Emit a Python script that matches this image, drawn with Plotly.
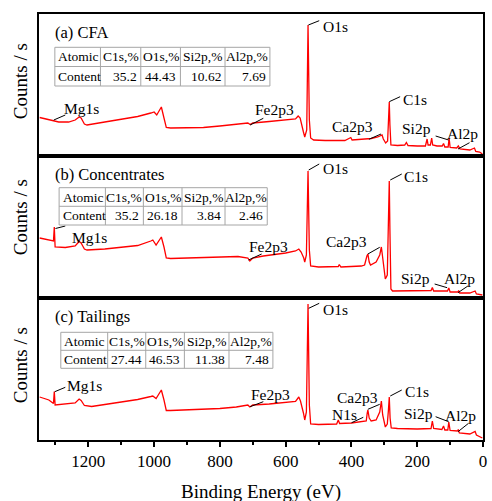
import plotly.graph_objects as go
from plotly.subplots import make_subplots

SERIF = "Liberation Serif"
RED = "#ff0000"
GRID = "#a6a6a6"

# ---- XPS survey spectra: binding energy (eV) and intensity (counts/s, arb. scale) ----
cfa_be = [1348, 1330, 1310, 1290, 1260, 1240, 1228, 1222, 1212, 1204, 1150, 1100, 1050,
          1010, 1000, 992, 978, 970, 963, 950, 900, 850, 800, 750, 715, 708, 700, 650,
          600, 570, 562, 556, 546, 542, 536, 532, 528, 524, 515, 480, 420, 406, 402,
          398, 370, 340, 320, 310, 307, 303, 296, 290, 286.5, 285, 283, 280, 260, 238,
          233, 228, 200, 175, 170, 167, 160, 156, 153, 140, 124, 120, 116, 106, 103,
          100, 80, 75, 70, 40, 26, 22, 10, 2]
cfa_cps = [38.5, 37, 35, 34, 34, 36, 39, 38, 32, 31, 34, 36.5, 39.5,
           43, 44, 41, 49, 38, 28.5, 28, 28, 28.5, 30, 31.5, 33, 31.5, 33, 34.5,
           36, 37, 40, 38, 24, 19, 26, 131, 36, 18, 16, 15.5, 15.5, 17.5, 18.5,
           16, 16.5, 17.5, 19, 20, 21, 17, 13, 15, 46, 54, 31, 11, 10.5, 11,
           13.5, 10.5, 10, 10, 17, 11, 11, 18, 11, 10, 10, 12.5, 9, 9, 18,
           8.5, 8, 10, 7, 6, 8, 4.5, 4, 2]

conc_be = [1348, 1320, 1306, 1303.5, 1301, 1270, 1240, 1228, 1222, 1212, 1204, 1150, 1100,
           1050, 1010, 1004, 994, 978, 970, 963, 950, 900, 850, 800, 745, 715, 709, 700,
           668, 600, 570, 560, 553, 545, 542, 537, 532, 528, 524, 500, 440, 437, 432,
           370, 360, 353, 350, 346, 342, 325, 314, 309, 304, 297, 291, 287, 285, 283,
           280, 275, 200, 158, 154, 150, 108, 104, 100, 76, 74, 71, 40, 24, 20, 2]
conc_cps = [60, 58, 57, 71, 51, 50.5, 52, 56.5, 55, 49, 48, 49, 50.5,
            52.5, 57, 58, 53, 61, 51, 40, 39.5, 40, 40.5, 41.5, 41.5, 40, 37, 40,
            42, 45, 47, 49, 46, 40, 36, 43, 127, 48, 32, 31, 31.5, 33.5, 31,
            32, 33, 42, 44, 36, 33, 36, 43, 51, 36, 19, 23, 78, 117, 68,
            9, 7, 7, 7.5, 10.5, 7, 7, 10, 6, 6, 7.5, 5, 5, 7, 4, 3]

tail_be = [1348, 1320, 1306, 1303.5, 1301, 1270, 1240, 1228, 1222, 1212, 1204, 1190, 1150,
           1100, 1050, 1010, 1004, 994, 978, 970, 963, 950, 900, 850, 800, 750, 715, 709,
           700, 650, 600, 570, 560, 555, 546, 542, 537, 532, 528, 524, 500, 445, 440,
           436, 400, 370, 355, 352, 350, 346, 340, 325, 314, 309, 305, 297, 291, 287.5,
           285, 282.5, 279, 260, 200, 158, 154, 150, 125, 120, 116, 107, 104, 100, 78,
           75, 72, 40, 24, 20, 2]
tail_cps = [43, 40, 36.5, 48.5, 35, 36, 37, 41, 39.5, 34.5, 34, 33.5, 35.5,
            38, 40.5, 43.5, 44, 41.5, 50, 40, 29.5, 29.5, 30, 30.5, 31.5, 33, 35, 33,
            35, 36, 37.5, 38.5, 43, 39, 27, 20, 28, 136, 35, 16, 15.5, 16, 20,
            16.5, 17, 18, 19, 27, 30, 22, 19, 20, 28, 39, 25, 13, 16, 30,
            43, 22, 12, 11.5, 11, 11.5, 19, 11.5, 10.5, 14, 10, 10, 18, 9.5, 9,
            10.5, 7, 6, 8.5, 5, 2]

# ---- Atomic content tables ----
table_header = ["Atomic", "C1s,%", "O1s,%", "Si2p,%", "Al2p,%"]
row_label = "Content"
cfa_content = ["35.2", "44.43", "10.62", "7.69"]
conc_content = ["35.2", "26.18", "3.84", "2.46"]
tail_content = ["27.44", "46.53", "11.38", "7.48"]

panel_titles = ["(a) CFA", "(b) Concentrates", "(c) Tailings"]
x_ticks = [1200, 1000, 800, 600, 400, 200, 0]

spectra = [(cfa_be, cfa_cps), (conc_be, conc_cps), (tail_be, tail_cps)]
contents = [cfa_content, conc_content, tail_content]

# figure geometry (pixels) used to place the tables in paper coordinates
W, H = 492, 501
ML, MR, MT, MB = 39, 5, 14, 61
PW, PH = W - ML - MR, H - MT - MB


def px(x):
    return (x - ML) / PW


def py(y):
    return (H - MB - y) / PH


fig = make_subplots(rows=3, cols=1, shared_xaxes=True, vertical_spacing=0)

for i, (be, cps) in enumerate(spectra, start=1):
    fig.add_trace(go.Scatter(x=be, y=cps, mode="lines",
                             line=dict(color=RED, width=1.3),
                             showlegend=False, hoverinfo="skip"), row=i, col=1)

# peak labels: (text, label x, label y, leader from (x0, y0) to (x1, y1))
peak_labels = [
    [("Mg1s", 1279, 48, 1305, 36, 1270, 41),
     ("Fe2p3", 698, 47, 708, 31, 668, 37.7),
     ("O1s", 493, 130, 531, 131, 498, 135.3),
     ("Ca2p3", 464, 30, 347, 16.7, 310, 22),
     ("C1s", 250, 56.7, 285, 54.3, 252, 59.3),
     ("Si2p", 253, 28, 144, 20, 104.5, 16),
     ("Al2p", 117, 23, 41, 13.3, 76, 7)],
    [("Mg1s", 1255, 60.3, 1300, 69.5, 1270, 72),
     ("Fe2p3", 719, 51.3, 713, 38, 673, 44),
     ("O1s", 494, 129.7, 530, 128, 498, 134),
     ("Ca2p3", 482, 56.3, 350, 44, 314, 50.7),
     ("C1s", 247, 121.3, 282, 118, 247, 124),
     ("Si2p", 256, 19.7, 147, 14, 109, 10.3),
     ("Al2p", 126, 19.7, 46, 12, 76, 5.3)],
    [("Mg1s", 1270, 54.3, 1302, 48.3, 1270, 52.7),
     ("Fe2p3", 713, 45.7, 708, 33.3, 668, 38.3),
     ("O1s", 494, 130.7, 530, 131.7, 498, 136.7),
     ("Ca2p3", 449, 42.7, 350, 30.7, 314, 35.7),
     ("N1s", 464, 26, 399.5, 17.3, 364, 22.7),
     ("C1s", 244, 48.3, 282, 44, 247, 50),
     ("Si2p", 247, 26.7, 144, 23.3, 104.5, 18.3),
     ("Al2p", 123, 25, 44, 16.7, 76, 8.3)],
]

for i, labels in enumerate(peak_labels, start=1):
    xr = "x" if i == 1 else f"x{i}"
    yr = "y" if i == 1 else f"y{i}"
    for text, tx, ty, x0, y0, x1, y1 in labels:
        fig.add_annotation(x=tx, y=ty, xref=xr, yref=yr, text=text, showarrow=False,
                           xanchor="left", yanchor="middle",
                           font=dict(family=SERIF, size=15.5, color="black"))
        fig.add_shape(type="line", xref=xr, yref=yr, x0=x0, y0=y0, x1=x1, y1=y1,
                      line=dict(color="black", width=1))
    fig.add_annotation(x=1306, y=123.5, xref=xr, yref=yr, text=panel_titles[i - 1],
                       showarrow=False, xanchor="left", yanchor="middle",
                       font=dict(family=SERIF, size=16.5, color="black"))

# composition tables: column and row edges in pixels
table_cols = [[55, 101, 141.7, 181.7, 226.7, 272],
              [59.3, 106, 144.3, 183.3, 226.7, 269.3],
              [61, 108.3, 146.7, 185.7, 230.7, 275]]
table_rows = [[47.3, 66.5, 86], [187.7, 206.3, 225], [332.3, 350.3, 368.3]]

cell_font = dict(family=SERIF, size=13.5, color="black")
for cols, rows, vals in zip(table_cols, table_rows, contents):
    fig.add_shape(type="rect", xref="paper", yref="paper",
                  x0=px(cols[0]), x1=px(cols[-1]), y0=py(rows[0]), y1=py(rows[-1]),
                  line=dict(color=GRID, width=1), fillcolor="white", layer="above")
    for c in cols[1:-1]:
        fig.add_shape(type="line", xref="paper", yref="paper",
                      x0=px(c), x1=px(c), y0=py(rows[0]), y1=py(rows[-1]),
                      line=dict(color=GRID, width=1))
    fig.add_shape(type="line", xref="paper", yref="paper",
                  x0=px(cols[0]), x1=px(cols[-1]), y0=py(rows[1]), y1=py(rows[1]),
                  line=dict(color=GRID, width=1))
    row_texts = [table_header, [row_label] + vals]
    for r, texts in enumerate(row_texts):
        yc = py((rows[r] + rows[r + 1]) / 2)
        for c, t in enumerate(texts):
            if c == 0:
                xa, xv = "left", px(cols[0] + 1.5)
            elif r == 0:
                xa, xv = "center", px((cols[c] + cols[c + 1]) / 2)
            else:
                xa, xv = "right", px(cols[c + 1] - 2)
            fig.add_annotation(x=xv, y=yc, xref="paper", yref="paper", text=t,
                               showarrow=False, xanchor=xa, yanchor="middle",
                               font=cell_font)

axis_line = dict(showline=True, linewidth=2, linecolor="black", mirror=True,
                 showgrid=False, zeroline=False)
for i in range(1, 4):
    fig.update_yaxes(range=[0, 142], showticklabels=False, ticks="", row=i, col=1,
                     **axis_line)
    fig.update_xaxes(range=[1350, 0], row=i, col=1, **axis_line)
    fig.add_annotation(x=px(20), y=py([81, 217, 365][i - 1]), xref="paper",
                       yref="paper", text="Counts / s", textangle=-90, showarrow=False,
                       xanchor="center", yanchor="middle",
                       font=dict(family=SERIF, size=19, color="black"))

fig.update_xaxes(showticklabels=False, ticks="", row=1, col=1)
fig.update_xaxes(showticklabels=False, ticks="", row=2, col=1)
fig.update_xaxes(row=3, col=1, ticks="outside", ticklen=5, tickwidth=1.5,
                 tickcolor="black", tickvals=x_ticks, showticklabels=True,
                 tickfont=dict(family=SERIF, size=17, color="black"),
                 minor=dict(ticks="outside", ticklen=3, tickwidth=1.5, dtick=100,
                            tick0=0, tickcolor="black"))

fig.add_annotation(x=px(263), y=py(492), xref="paper", yref="paper",
                   text="Binding Energy (eV)", showarrow=False,
                   xanchor="center", yanchor="middle",
                   font=dict(family=SERIF, size=19, color="black"))

fig.update_layout(width=W, height=H, margin=dict(l=ML, r=MR, t=MT, b=MB),
                  paper_bgcolor="white", plot_bgcolor="white", showlegend=False,
                  font=dict(family=SERIF, color="black"))

fig.write_html("out.html")
